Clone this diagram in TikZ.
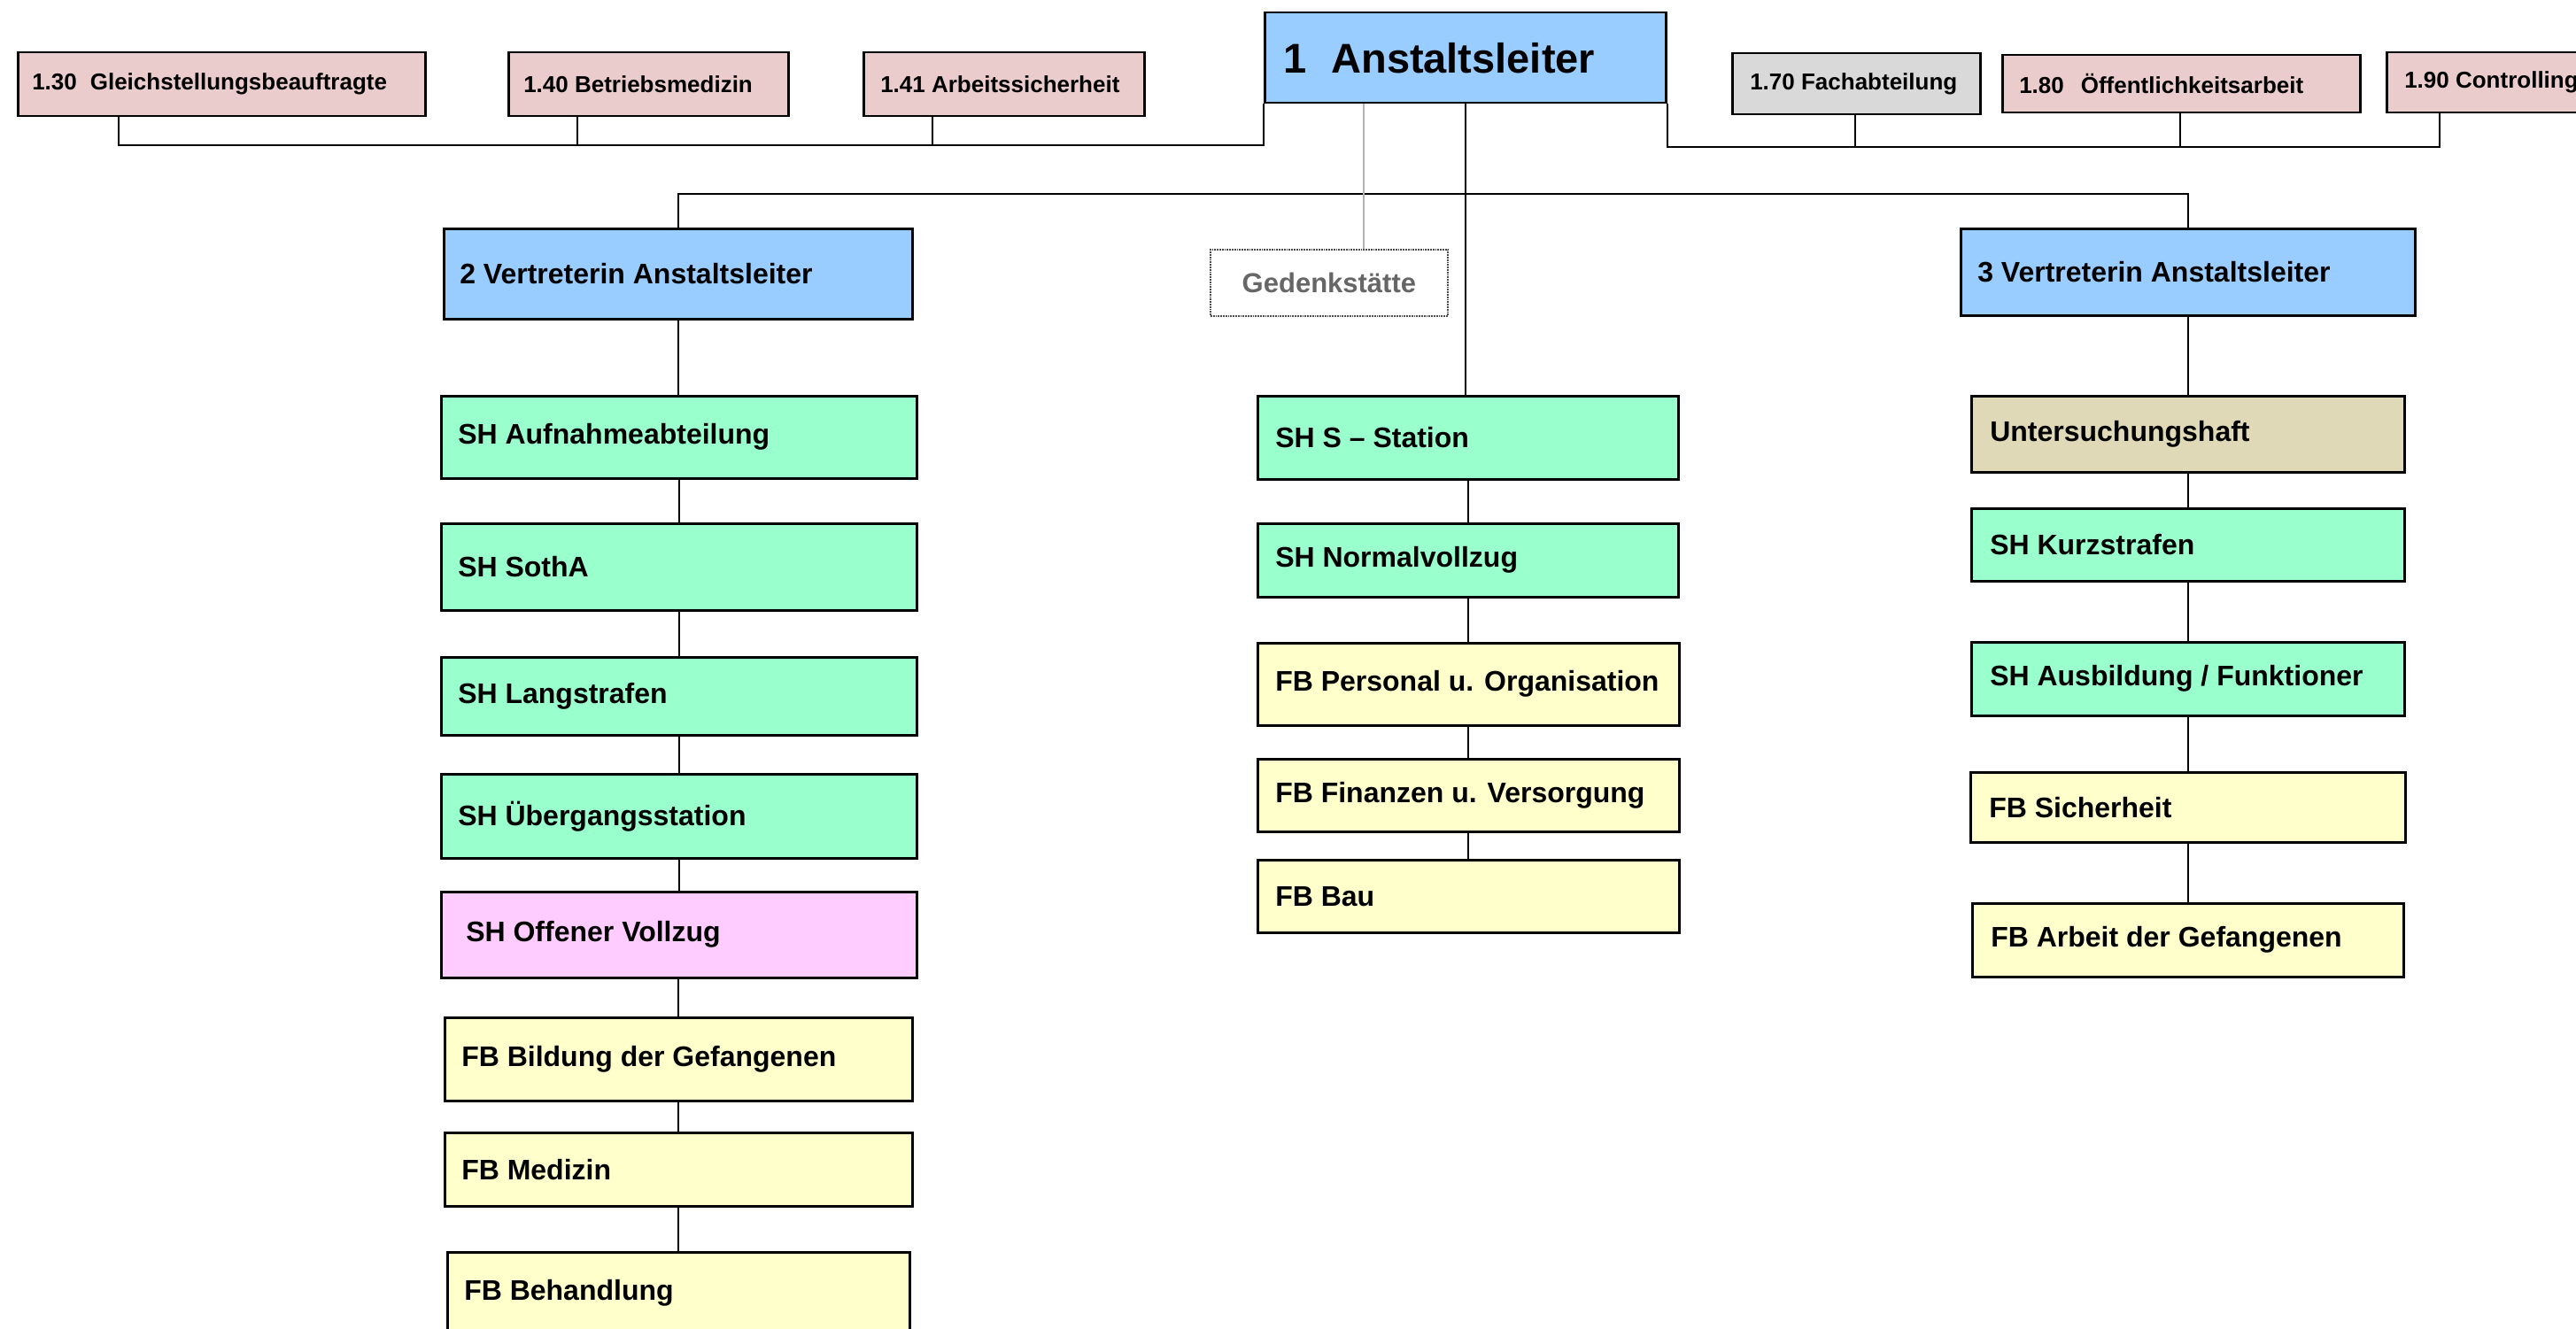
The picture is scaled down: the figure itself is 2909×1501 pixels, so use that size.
\documentclass[tikz,border=0pt]{standalone}
\usepackage{fontspec}
\setmainfont{Liberation Sans}
\definecolor{staffpink}{HTML}{EBCCCC}
\definecolor{leadblue}{HTML}{99CCFF}
\definecolor{mintgreen}{HTML}{99FFCC}
\definecolor{creamy}{HTML}{FFFFCC}
\definecolor{orchidpink}{HTML}{FFCCFF}
\definecolor{uhtan}{HTML}{E0D9B8}
\definecolor{lightgrey}{HTML}{D9D9D9}
\definecolor{gedtext}{HTML}{666666}
\tikzset{
  ob/.style={draw=black, line width=2.5pt, rectangle, anchor=north west, inner ysep=0pt,
    font=\bfseries\fontsize{32}{38}\selectfont},
  stafffont/.style={font=\bfseries\fontsize{26}{31}\selectfont},
  headfont/.style={font=\bfseries\fontsize{47}{56}\selectfont},
  conn/.style={line width=2pt, draw=black},
  gedline/.style={line width=1.5pt, draw=black!30},
  gedbox/.style={draw=black!70, line width=1.8pt, densely dotted, rectangle, anchor=north west,
    inner sep=0pt, text=gedtext, font=\bfseries\fontsize{31}{37}\selectfont},
}
% \OB[pad]{name}{x,y}{w}{h}{style}{text}
\newcommand\OB[7][19]{\node[ob,#6,minimum width=#4pt,minimum height=#5pt,inner xsep=#1pt] (#2) at (#3)
  {\makebox[\dimexpr #4pt-#1pt*2\relax][l]{#7}};}
\begin{document}
\begin{tikzpicture}[x=1pt,y=-1pt]
\useasboundingbox (0,0) rectangle (2909,1501);
\fill[white] (0,0) rectangle (2909,1501);
\clip (0,0) rectangle (2909,1501);

% head
\OB[21]{A}{1427,13}{453}{102}{fill=leadblue,headfont}{1\hspace{28pt}Anstaltsleiter}

% staff left
\OB[16]{g130}{19,58}{460}{72}{fill=staffpink,stafffont}{1.30\hspace{15pt}Gleichstellungsbeauftragte}
\OB[17]{g140}{573,58}{316}{72}{fill=staffpink,stafffont}{1.40 Betriebsmedizin}
\OB[19]{g141}{974,58}{317}{72}{fill=staffpink,stafffont}{1.41 Arbeitssicherheit}
% staff right
\OB[20]{g170}{1955,59}{280}{69}{fill=lightgrey,stafffont}{1.70 Fachabteilung}
\OB[19]{g180}{2260,61}{404}{65}{fill=staffpink,stafffont}{1.80\hspace{19pt}Öffentlichkeitsarbeit}
\OB[20]{g190}{2694,58}{280}{68}{fill=staffpink,stafffont}{1.90 Controlling}

% deputies
\OB[18]{V2}{500,257}{529}{102}{fill=leadblue}{2 Vertreterin Anstaltsleiter}
\OB[19]{V3}{2213,257}{513}{98}{fill=leadblue}{3 Vertreterin Anstaltsleiter}
\node[gedbox, minimum width=268pt, minimum height=75pt] (G) at (1366,281) {Gedenkstätte};

% left column
\OB{a1}{497,446}{537}{93}{fill=mintgreen}{SH Aufnahmeabteilung}
\OB{a2}{497,590}{537}{98}{fill=mintgreen}{SH SothA}
\OB{a3}{497,741}{537}{88}{fill=mintgreen}{SH Langstrafen}
\OB{a4}{497,873}{537}{95}{fill=mintgreen}{SH Übergangsstation}
\OB[28]{a5}{497,1006}{537}{97}{fill=orchidpink}{SH Offener Vollzug}
\OB{a6}{501,1148}{528}{94}{fill=creamy}{FB Bildung der Gefangenen}
\OB{a7}{501,1278}{528}{83}{fill=creamy}{FB Medizin}
\OB{a8}{504,1413}{522}{92}{fill=creamy}{FB Behandlung}

% middle column
\OB[20]{m1}{1419,446}{475}{94}{fill=mintgreen}{SH S – Station}
\OB[20]{m2}{1419,590}{475}{83}{fill=mintgreen}{SH Normalvollzug}
\OB[20]{m3}{1419,725}{476}{93}{fill=creamy}{FB Personal u. Organisation}
\OB[20]{m4}{1419,856}{476}{82}{fill=creamy}{FB Finanzen u. Versorgung}
\OB[20]{m5}{1419,970}{476}{82}{fill=creamy}{FB Bau}

% right column
\OB[21]{r1}{2225,446}{489}{86}{fill=uhtan}{Untersuchungshaft}
\OB[21]{r2}{2225,573}{489}{82}{fill=mintgreen}{SH Kurzstrafen}
\OB[21]{r3}{2225,724}{489}{83}{fill=mintgreen}{SH Ausbildung / Funktioner}
\OB[21]{r4}{2224,871}{491}{79}{fill=creamy}{FB Sicherheit}
\OB[21]{r5}{2226,1019}{487}{83}{fill=creamy}{FB Arbeit der Gefangenen}

% staff connectors left
\coordinate (busL) at (134,164);
\coordinate (d140) at (652,164);
\coordinate (d141) at (1053,164);
\draw[conn] (A.south west) |- (busL) -- (busL |- g130.south);
\draw[conn] (d140) -- (d140 |- g140.south);
\draw[conn] (d141) -- (d141 |- g141.south);
% staff connectors right
\coordinate (busR) at (2755,166);
\coordinate (d170) at (2095,166);
\coordinate (d180) at (2462,166);
\draw[conn] (A.south east) |- (busR) -- (busR |- g190.south);
\draw[conn] (d170) -- (d170 |- g170.south);
\draw[conn] (d180) -- (d180 |- g180.south);

% main
\coordinate (busy) at (1655,219);
\draw[conn] (A.south) -- (A.south |- m1.north);
\draw[conn] (V2.north) |- (busy) -| (V3.north);
\draw[gedline] ([xshift=113pt]A.south west) -- ([xshift=174pt]G.north west);

% chains
\draw[conn] (V2.south) -- (V2.south |- a1.north);
\draw[conn] (a1.south) -- (a1.south |- a2.north);
\draw[conn] (a2.south) -- (a2.south |- a3.north);
\draw[conn] (a3.south) -- (a3.south |- a4.north);
\draw[conn] (a4.south) -- (a4.south |- a5.north);
\draw[conn] (a6.north) -- (a6.north |- a5.south);
\draw[conn] (a6.south) -- (a6.south |- a7.north);
\draw[conn] (a8.north) -- (a8.north |- a7.south);

\draw[conn] (m1.south) -- (m1.south |- m2.north);
\draw[conn] (m2.south) -- (m2.south |- m3.north);
\draw[conn] (m3.south) -- (m3.south |- m4.north);
\draw[conn] (m4.south) -- (m4.south |- m5.north);

\draw[conn] (V3.south) -- (V3.south |- r1.north);
\draw[conn] (r1.south) -- (r1.south |- r2.north);
\draw[conn] (r2.south) -- (r2.south |- r3.north);
\draw[conn] (r3.south) -- (r3.south |- r4.north);
\draw[conn] (r5.north) -- (r5.north |- r4.south);
\end{tikzpicture}
\end{document}
